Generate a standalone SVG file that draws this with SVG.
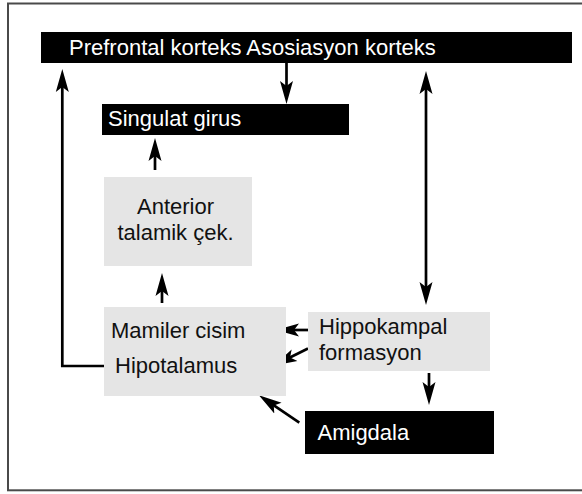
<svg xmlns="http://www.w3.org/2000/svg" width="582" height="494" viewBox="0 0 582 494">
<style>
.t{font-family:"Liberation Sans",Arial,sans-serif;font-size:22px}
.w{fill:#fff}
.k{fill:#111}
.dark{fill:#000}
.gray{fill:#e5e5e5}
.c{fill:none;stroke:#000;stroke-width:2.7}
</style>
<defs>
<marker id="ah" markerUnits="userSpaceOnUse" markerWidth="26" markerHeight="16" viewBox="0 -8 26 16" refX="8" refY="0" orient="auto">
<path d="M0,-6.5 L23,0 L0,6.5 L5,0 Z" fill="#000"/>
</marker>
<marker id="ahs" markerUnits="userSpaceOnUse" markerWidth="26" markerHeight="16" viewBox="-26 -8 26 16" refX="-8" refY="0" orient="auto">
<path d="M0,-6.5 L-23,0 L0,6.5 L-5,0 Z" fill="#000"/>
</marker>
</defs>
<rect x="8" y="3.5" width="590" height="486.8" fill="#fff" stroke="#4a4a4a" stroke-width="2"/>
<g id="connectors">
<path class="c" d="M105.7,366 H62.3 V84" marker-end="url(#ah)"/>
<path class="c" d="M286.5,63 V89" marker-end="url(#ah)"/>
<path class="c" d="M155,170 V153" marker-end="url(#ah)"/>
<path class="c" d="M162,303 V288" marker-end="url(#ah)"/>
<path class="c" d="M426,86 V290" marker-start="url(#ahs)" marker-end="url(#ah)"/>
<path class="c" d="M318,330 H291" marker-end="url(#ah)"/>
<path class="c" d="M308,348.5 L287.4,358.8" marker-end="url(#ah)"/>
<path class="c" d="M429,373 V390" marker-end="url(#ah)"/>
<path class="c" d="M299.3,422.7 L271.3,403.7" marker-end="url(#ah)"/>
</g>
<g id="prefrontal">
<rect class="dark" x="41" y="32" width="531" height="31"/>
<text class="t w" x="69" y="55">Prefrontal korteks Asosiasyon korteks</text>
</g>
<g id="singulat">
<rect class="dark" x="102" y="104" width="247" height="31"/>
<text class="t w" x="108" y="126">Singulat girus</text>
</g>
<g id="anterior">
<rect class="gray" x="104" y="177" width="148" height="89"/>
<text class="t k" x="175.5" y="214" text-anchor="middle">Anterior</text>
<text class="t k" x="175.5" y="240" text-anchor="middle">talamik çek.</text>
</g>
<g id="mamiler">
<rect class="gray" x="104" y="307" width="182" height="89"/>
<text class="t k" x="111" y="338">Mamiler cisim</text>
<text class="t k" x="115" y="372.5">Hipotalamus</text>
</g>
<g id="hippokampal">
<rect class="gray" x="308" y="312" width="182" height="59"/>
<text class="t k" x="319" y="334">Hippokampal</text>
<text class="t k" x="319" y="359.5">formasyon</text>
</g>
<g id="amigdala">
<rect class="dark" x="305" y="411" width="189" height="43"/>
<text class="t w" x="317.5" y="439.5">Amigdala</text>
</g>
</svg>
